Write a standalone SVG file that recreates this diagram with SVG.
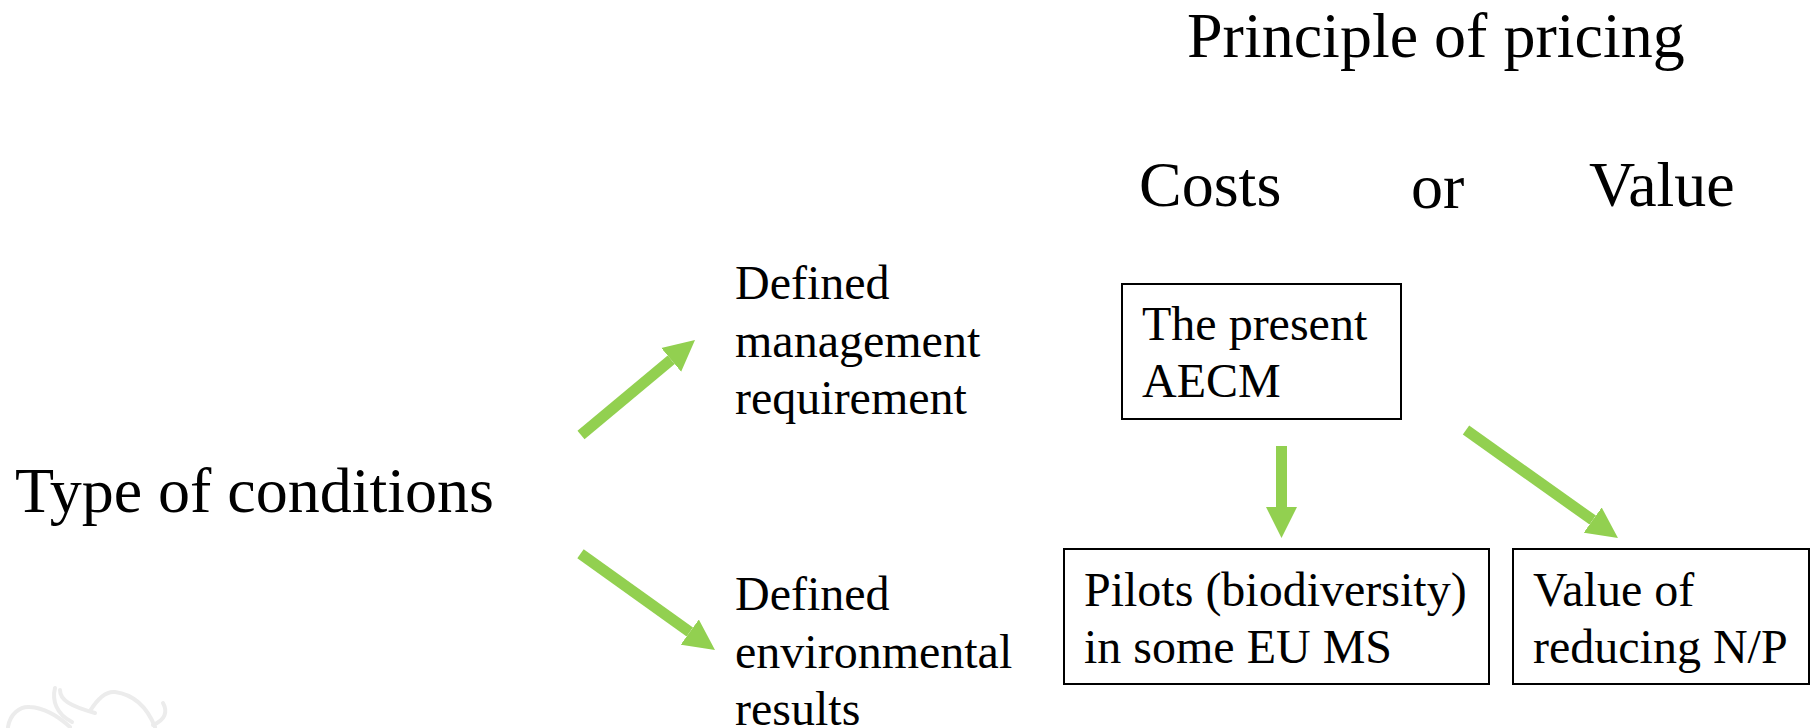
<svg xmlns="http://www.w3.org/2000/svg" width="1816" height="728" viewBox="0 0 1816 728">
  <style>
    text { font-family: "Liberation Serif", "Times New Roman", serif; fill: #000; }
    .title { font-size: 64px; }
    .lbl { font-size: 48px; }
    .box { fill: #fff; stroke: #000; stroke-width: 2; }
    .arrow { stroke: #92D050; stroke-width: 11; fill: none; marker-end: url(#head); }
    .wm { fill: none; stroke: #ececec; stroke-width: 4; stroke-linecap: round; }
  </style>
  <defs>
    <marker id="head" markerUnits="userSpaceOnUse" markerWidth="32" markerHeight="32" viewBox="0 -16 32 32" refX="0" refY="0" orient="auto">
      <path d="M0,-15.5 L31,0 L0,15.5 Z" fill="#92D050"/>
    </marker>
  </defs>
  <rect width="1816" height="728" fill="#fff"/>

  <g id="watermark">
    <path class="wm" d="M8 727 C10 714 20 706 30 707 C45 708 58 716 70 727"/>
    <path class="wm" d="M55 688 C52 700 56 714 72 722"/>
    <path class="wm" d="M60 690 C60 700 70 706 95 713"/>
    <path class="wm" d="M90 711 C98 698 106 691 115 692 C130 694 145 702 155 727"/>
    <path class="wm" d="M163 703 C168 712 165 720 153 725"/>
  </g>

  <g id="title-pricing">
    <text class="title" x="1187" y="57">Principle of pricing</text>
  </g>
  <g id="costs"><text class="title" x="1139" y="206">Costs</text></g>
  <g id="or"><text class="title" x="1411" y="208">or</text></g>
  <g id="value"><text class="title" x="1589" y="206">Value</text></g>

  <g id="type-of-conditions">
    <text class="title" x="15" y="512">Type of conditions</text>
  </g>

  <g id="defined-management">
    <text class="lbl" x="735" y="299">Defined</text>
    <text class="lbl" x="735" y="356.5">management</text>
    <text class="lbl" x="735" y="414">requirement</text>
  </g>

  <g id="defined-environmental">
    <text class="lbl" x="735" y="610">Defined</text>
    <text class="lbl" x="735" y="667.5">environmental</text>
    <text class="lbl" x="735" y="725">results</text>
  </g>

  <g id="present-aecm">
    <rect class="box" x="1122" y="284" width="279" height="135"/>
    <text class="lbl" x="1142" y="340">The present</text>
    <text class="lbl" x="1142" y="397">AECM</text>
  </g>

  <g id="pilots">
    <rect class="box" x="1064" y="549" width="425" height="135"/>
    <text class="lbl" x="1084" y="606">Pilots (biodiversity)</text>
    <text class="lbl" x="1084" y="663">in some EU MS</text>
  </g>

  <g id="value-np">
    <rect class="box" x="1513" y="549" width="296" height="135"/>
    <text class="lbl" x="1533" y="606">Value of</text>
    <text class="lbl" x="1533" y="663">reducing N/P</text>
  </g>

  <g id="connectors">
    <line class="arrow" x1="581" y1="435" x2="671.2" y2="359.8"/>
    <line class="arrow" x1="580.5" y1="553.7" x2="689.8" y2="632"/>
    <line class="arrow" x1="1281.5" y1="446" x2="1281.5" y2="507"/>
    <line class="arrow" x1="1466" y1="430" x2="1592.7" y2="520.1"/>
  </g>
</svg>
